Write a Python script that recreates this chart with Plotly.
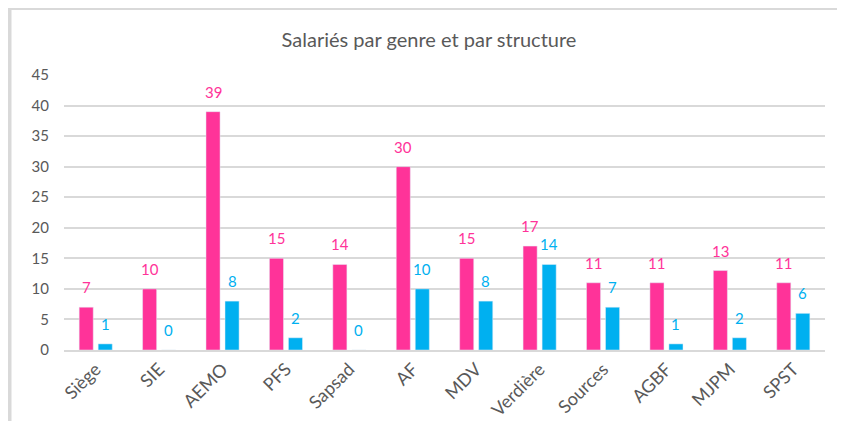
import plotly.graph_objects as go

categories = ["Siège", "SIE", "AEMO", "PFS", "Sapsad", "AF", "MDV", "Verdière",
              "Sources", "AGBF", "MJPM", "SPST"]
femmes = [7, 10, 39, 15, 14, 30, 15, 17, 11, 11, 13, 11]
hommes = [1, 0, 8, 2, 0, 10, 8, 14, 7, 1, 2, 6]
y_ticks = [0, 5, 10, 15, 20, 25, 30, 35, 40, 45]

PINK = "#FF3399"
BLUE = "#00B0F0"
GRAY = "#595959"
FONT = "Lato"

# the page body adds an 8 px margin on every side, so the figure is sized
# to fit inside the window without scrollbars
W, H = 837, 413
ML, MR, MT, MB = 56, 20, 67, 71

fig = go.Figure()
fig.add_trace(go.Bar(x=categories, y=femmes, name="Femmes", marker=dict(color=PINK)))
fig.add_trace(go.Bar(x=categories, y=hommes, name="Hommes", marker=dict(color=BLUE)))

annotations = []
for cat, f, h in zip(categories, femmes, hommes):
    annotations.append(dict(x=cat, y=f, text=str(f), showarrow=False, xref="x", yref="y",
                            xshift=-9.5, yshift=9, yanchor="bottom",
                            font=dict(family=FONT, size=15, color=PINK)))
    annotations.append(dict(x=cat, y=h, text=str(h), showarrow=False, xref="x", yref="y",
                            xshift=9.5, yshift=9, yanchor="bottom",
                            font=dict(family=FONT, size=15, color=BLUE)))

fig.update_layout(
    width=W, height=H,
    margin=dict(l=ML, r=MR, t=MT, b=MB),
    paper_bgcolor="white", plot_bgcolor="white",
    barmode="group", bargap=0.40, bargroupgap=0.26,
    showlegend=False,
    title=dict(text="Salariés par genre et par structure", x=421 / W, xref="container",
               y=1 - 32 / H, yref="container", xanchor="center", yanchor="middle",
               font=dict(family=FONT, size=20, color=GRAY)),
    font=dict(family=FONT, size=15, color=GRAY),
    xaxis=dict(showgrid=False, showline=True, linecolor="#D9D9D9", linewidth=1.5,
               tickangle=-45, tickfont=dict(family=FONT, size=18, color=GRAY),
               ticks="", fixedrange=True, automargin=False),
    yaxis=dict(range=[0, 45], tickvals=y_ticks, showgrid=True, gridcolor="#D9D9D9",
               gridwidth=1.5, zeroline=False, showline=False, ticks="",
               ticklabelstandoff=14, automargin=False,
               tickfont=dict(family=FONT, size=15, color=GRAY)),
    annotations=annotations,
)

dom_x0, dom_x1 = ML / W, 1 - MR / W
dom_y0, dom_y1 = MB / H, 1 - MT / H
def to_paper_x(xp):
    return (xp / W - dom_x0) / (dom_x1 - dom_x0)
def to_paper_y(yp):
    return ((1 - yp / H) - dom_y0) / (dom_y1 - dom_y0)

# chart frame (light gray border at left and top)
fig.add_shape(type="line", xref="paper", yref="paper",
              x0=to_paper_x(1.5), x1=to_paper_x(1.5),
              y0=to_paper_y(0), y1=to_paper_y(H),
              line=dict(color="#D9D9D9", width=4), layer="above")
fig.add_shape(type="line", xref="paper", yref="paper",
              x0=to_paper_x(0), x1=to_paper_x(W),
              y0=to_paper_y(1), y1=to_paper_y(1),
              line=dict(color="#D9D9D9", width=2), layer="above")

fig.write_html("out.html")
